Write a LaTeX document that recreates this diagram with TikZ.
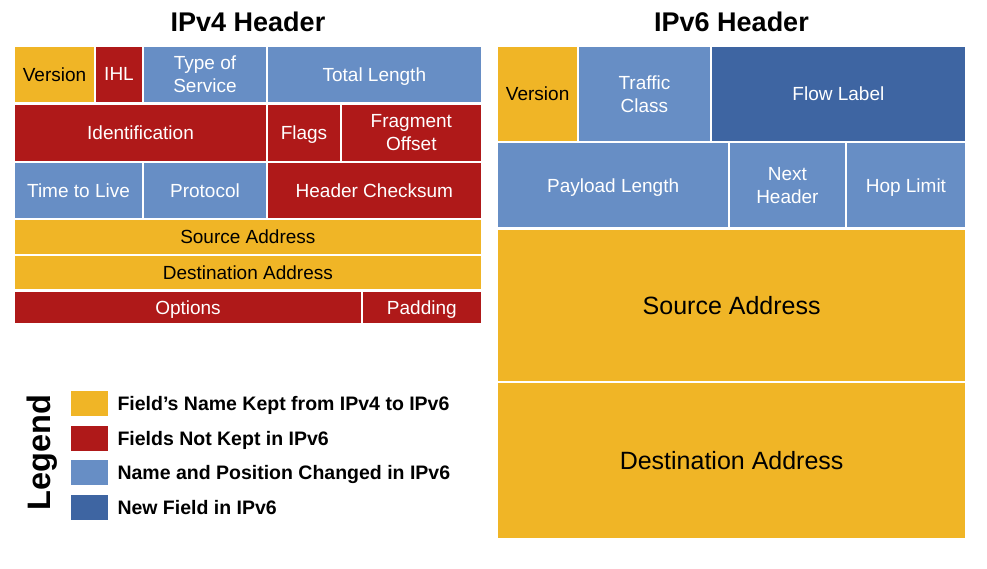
\documentclass[tikz,border=0pt]{standalone}
\usepackage{fontspec}
\setmainfont{Liberation Sans}
\begin{document}
\definecolor{kept}{RGB}{240,181,38}
\definecolor{dropped}{RGB}{175,25,25}
\definecolor{moved}{RGB}{103,142,197}
\definecolor{newfield}{RGB}{62,101,162}
\tikzset{
  fieldcell/.style={inner sep=0pt, outer sep=0pt, draw=none, align=center,
    text depth=0pt, font=\fontsize{19}{23}\selectfont},
  keptcell/.style={fieldcell, fill=kept, text=black},
  droppedcell/.style={fieldcell, fill=dropped, text=white},
  movedcell/.style={fieldcell, fill=moved, text=white},
  newcell/.style={fieldcell, fill=newfield, text=white},
  headtitle/.style={font=\fontsize{27}{32}\selectfont\bfseries, anchor=base, inner sep=0pt},
  swatch/.style={inner sep=0pt, outer sep=0pt, minimum width=37pt, minimum height=25pt, anchor=north west},
  legendtext/.style={font=\fontsize{19.5}{23}\selectfont\bfseries, anchor=base west, inner sep=0pt},
}
% name, x1, y1, x2, y2, style, text  (1px gap kept on every side)
\newcommand\fieldbox[7]{%
  \node[#6, anchor=north west, minimum width={#4-#2-2}, minimum height={#5-#3-2}]
    (#1) at ({#2+1},{#3+1}) {#7};}
\begin{tikzpicture}[x=1pt, y=-1pt]
\useasboundingbox[fill=white] (0,0) rectangle (987,569);

% ---------- IPv4 header ----------
\node[headtitle] (v4title) at (248,31.5) {IPv4 Header};
\fieldbox{v4ver}{14}{45.7}{95}{102.7}{keptcell}{Version}
\fieldbox{v4ihl}{95}{45.7}{143}{102.7}{droppedcell}{IHL}
\fieldbox{v4tos}{143}{45.7}{267}{102.7}{movedcell}{Type of\\Service}
\fieldbox{v4len}{267}{45.7}{481.7}{102.7}{movedcell}{Total Length}

\fieldbox{v4id}{14}{104}{267}{161.7}{droppedcell}{Identification}
\fieldbox{v4flags}{267}{104}{341}{161.7}{droppedcell}{Flags}
\fieldbox{v4frag}{341}{104}{481.7}{161.7}{droppedcell}{Fragment\\Offset}

\fieldbox{v4ttl}{14}{161.7}{143}{218.7}{movedcell}{Time to Live}
\fieldbox{v4proto}{143}{161.7}{267}{218.7}{movedcell}{Protocol}
\fieldbox{v4csum}{267}{161.7}{481.7}{218.7}{droppedcell}{Header Checksum}

\fieldbox{v4src}{14}{219}{481.7}{255}{keptcell}{Source Address}
\fieldbox{v4dst}{14}{255}{481.7}{290.3}{keptcell}{Destination Address}

\fieldbox{v4opt}{14}{291}{362}{323.7}{droppedcell}{Options}
\fieldbox{v4pad}{362}{291}{481.7}{323.7}{droppedcell}{Padding}

% ---------- IPv6 header ----------
\node[headtitle] (v6title) at (731.5,31.5) {IPv6 Header};
\fieldbox{v6ver}{497.3}{45.7}{578}{142.5}{keptcell}{Version}
\fieldbox{v6tc}{578}{45.7}{710.8}{142.5}{movedcell}{Traffic\\Class}
\fieldbox{v6flow}{710.8}{45.7}{966}{142.5}{newcell}{Flow Label}

\fieldbox{v6plen}{497.3}{142.5}{729}{228.3}{movedcell}{Payload Length}
\fieldbox{v6next}{729}{142.5}{845.8}{228.3}{movedcell}{Next\\Header}
\fieldbox{v6hop}{845.8}{142.5}{966}{228.3}{movedcell}{Hop Limit}

\fieldbox{v6src}{497.3}{229}{966}{382}{keptcell,font=\fontsize{25}{30}\selectfont}{Source Address}
\fieldbox{v6dst}{497.3}{382}{966}{538.7}{keptcell,font=\fontsize{25}{30}\selectfont}{Destination Address}

% ---------- Legend ----------
\node[font=\fontsize{32.5}{36}\selectfont\bfseries, rotate=90, anchor=base, inner sep=0pt]
  (legendtitle) at (50,452.5) {Legend};

\node[swatch, fill=kept] (swkept) at (71,391) {};
\node[swatch, fill=dropped] (swdropped) at (71,426) {};
\node[swatch, fill=moved] (swmoved) at (71,460) {};
\node[swatch, fill=newfield] (swnew) at (71,495) {};

\node[legendtext] (lgkept) at (117.3,410.5) {Field’s Name Kept from IPv4 to IPv6};
\node[legendtext] (lgdropped) at (117.3,445.5) {Fields Not Kept in IPv6};
\node[legendtext] (lgmoved) at (117.3,479.5) {Name and Position Changed in IPv6};
\node[legendtext] (lgnew) at (117.3,514.5) {New Field in IPv6};
\end{tikzpicture}
\end{document}
